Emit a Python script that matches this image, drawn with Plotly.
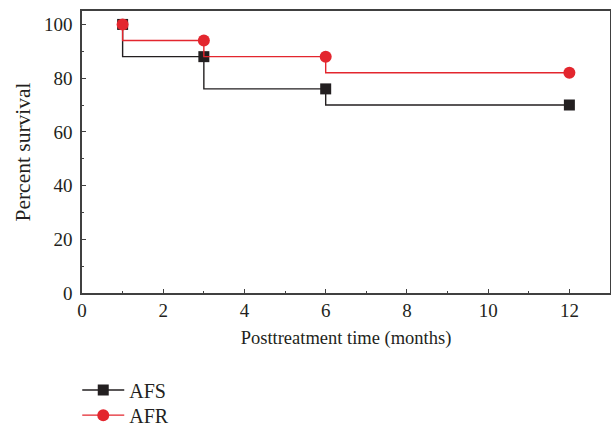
import plotly.graph_objects as go

months = [1, 3, 6, 12]
afs = [100, 88, 76, 70]
afr = [100, 94, 88, 82]
x_ticks = [0, 2, 4, 6, 8, 10, 12]
y_ticks = [0, 20, 40, 60, 80, 100]

BLACK = "#231f20"
RED = "#e3262e"
FONT = "Liberation Serif"

fig = go.Figure()
fig.add_trace(go.Scatter(
    x=months, y=afs, name="AFS", mode="lines+markers", legend="legend",
    line=dict(shape="vh", color=BLACK, width=1.4),
    marker=dict(symbol="square", size=11, color=BLACK),
))
fig.add_trace(go.Scatter(
    x=months, y=afr, name="AFR", mode="lines+markers", legend="legend2",
    line=dict(shape="vh", color=RED, width=1.4),
    marker=dict(symbol="circle", size=12, color=RED),
))

axis_common = dict(
    showline=True, linecolor="#404040", linewidth=1.5, mirror=True,
    ticks="inside", ticklen=4, tickcolor="#404040", tickwidth=1,
    showgrid=False, zeroline=False, automargin=False,
    tickfont=dict(family=FONT, size=19, color="#231f20"),
)

legend_common = dict(
    x=-0.009, xanchor="left", yanchor="top", orientation="v",
    font=dict(family=FONT, size=20), itemwidth=42, bgcolor="rgba(0,0,0,0)",
)

fig.update_layout(
    width=611, height=436,
    margin=dict(l=82, r=1, t=11, b=133),
    plot_bgcolor="white", paper_bgcolor="white",
    font=dict(family=FONT, size=19, color="#231f20"),
    xaxis=dict(
        range=[0, 13], tickvals=x_ticks, ticklabelstandoff=-1,
        minor=dict(ticks="inside", ticklen=2, tickcolor="#404040", dtick=1, tick0=0),
        title=dict(text="Posttreatment time (months)", font=dict(family=FONT, size=18.5), standoff=12),
        **axis_common,
    ),
    yaxis=dict(
        range=[0, 105], tickvals=y_ticks, ticklabelstandoff=4,
        minor=dict(ticks="inside", ticklen=2, tickcolor="#404040", dtick=10, tick0=0),
        title=dict(text="Percent survival", font=dict(family=FONT, size=21.5), standoff=7),
        **axis_common,
    ),
    legend=dict(y=-0.275, **legend_common),
    legend2=dict(y=-0.364, **legend_common),
    showlegend=True,
)

fig.write_html("out.html", post_script="document.body.style.margin='0';",
               config={"displayModeBar": False})
